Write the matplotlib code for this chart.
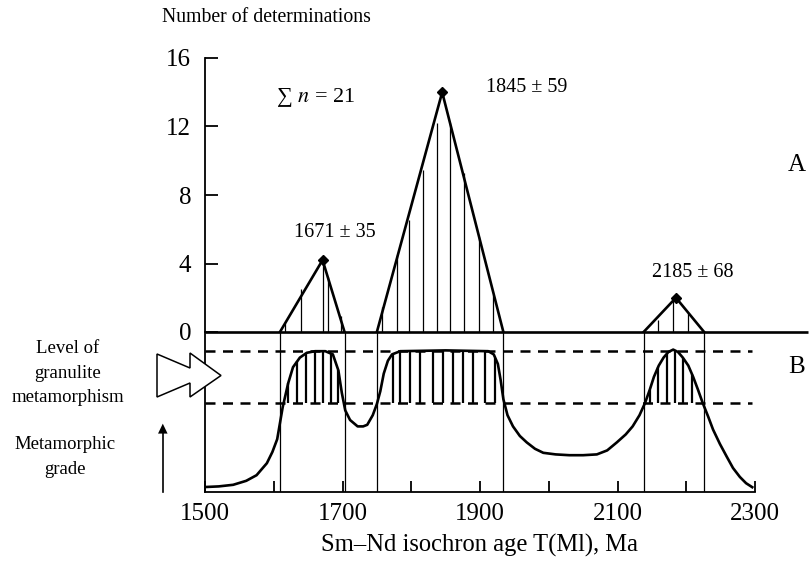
import numpy as np
import matplotlib.pyplot as plt
from matplotlib.patches import Polygon

plt.rcParams['font.family'] = ['Liberation Serif', 'DejaVu Serif']
plt.rcParams['mathtext.fontset'] = 'stix'

# --- upper panel (A): age histograms as triangles ---
peak_age = [1671, 1845, 2185]
peak_n = [4.2, 14.0, 2.0]
base_left = [1609, 1750, 2138]
base_right = [1703, 1934, 2226]
peak_labels = ['1671 ± 35', '1845 ± 59', '2185 ± 68']

hatch_a_age = [1616, 1639, 1671, 1679, 1698,
               1757, 1779, 1797, 1817, 1837, 1856, 1877, 1899, 1919,
               2159, 2180, 2202]
hatch_a_n = [0.53, 2.5, 4.2, 3.2, 0.93,
             1.46, 4.5, 6.54, 9.46, 12.2, 12.2, 9.28, 5.55, 2.16,
             0.7, 1.87, 1.1]

# --- lower panel (B): metamorphic grade curve ---
grade_age = [1500, 1520, 1541, 1560, 1575, 1590, 1598, 1605, 1613, 1621,
             1628, 1638, 1648, 1660, 1675, 1686, 1694, 1699, 1704, 1711,
             1722, 1730, 1736, 1744, 1750, 1755, 1760, 1766, 1772, 1784,
             1850, 1912, 1920, 1926, 1930, 1934, 1940, 1948, 1958, 1968,
             1980, 1992, 2010, 2030, 2050, 2070, 2085, 2099, 2112, 2122,
             2132, 2140, 2147, 2153, 2160, 2167, 2174, 2181, 2188, 2195,
             2203, 2210, 2217, 2224, 2232, 2239, 2249, 2259, 2268, 2278,
             2287, 2296]
grade_lvl = [0.031, 0.035, 0.045, 0.07, 0.105, 0.18, 0.25, 0.33, 0.53, 0.68,
             0.78, 0.84, 0.87, 0.88, 0.88, 0.86, 0.76, 0.62, 0.51, 0.45,
             0.41, 0.41, 0.42, 0.48, 0.55, 0.63, 0.74, 0.82, 0.86, 0.88,
             0.885, 0.88, 0.86, 0.80, 0.70, 0.58, 0.48, 0.41, 0.35, 0.31,
             0.27, 0.245, 0.235, 0.23, 0.23, 0.235, 0.26, 0.31, 0.36, 0.41,
             0.48, 0.556, 0.64, 0.72, 0.79, 0.84, 0.875, 0.89, 0.875, 0.84,
             0.79, 0.72, 0.64, 0.556, 0.47, 0.39, 0.30, 0.22, 0.15, 0.094,
             0.055, 0.03]
granulite_hi = 0.881
granulite_lo = 0.556
hatch_b_age = [1621, 1634, 1647, 1660, 1672, 1683, 1694,
               1773, 1784, 1798, 1813, 1831, 1846, 1861, 1875, 1890, 1907, 1922,
               2147, 2159, 2172, 2184, 2195, 2208]

W, H = 812, 563
fig = plt.figure(figsize=(W / 100, H / 100), dpi=100)
axB = fig.add_axes([205 / W, 1 - 492 / H, 550 / W, 160 / H])
axA = fig.add_axes([205 / W, 1 - 332 / H, 550 / W, 274 / H], sharex=axB)
axA.set_zorder(2)
axA.patch.set_visible(False)
axB.patch.set_visible(False)

lw = 1.9
# panel A
axA.set_xlim(1500, 2300)
axA.set_ylim(0, 16)
for s in ['top', 'right', 'bottom']:
    axA.spines[s].set_visible(False)
axA.spines['left'].set_linewidth(1.3)
axA.set_yticks([0, 4, 8, 12, 16])
axA.tick_params(axis='y', direction='in', length=9, width=1.3, labelsize=18, pad=10)
axA.tick_params(axis='x', bottom=False, labelbottom=False)
axA.plot([1500, 2377], [0, 0], color='black', lw=lw, clip_on=False, solid_capstyle='butt')

for xl, xp, xr, n in zip(base_left, peak_age, base_right, peak_n):
    axA.plot([xl, xp, xr], [0, n, 0], color='black', lw=lw, solid_joinstyle='miter')
    axA.plot(xp, n, marker='D', ms=5, color='black')
axA.vlines(hatch_a_age, 0, hatch_a_n, color='black', lw=0.9)

axA.text(1689, 5.8, peak_labels[0], fontsize=14.5, ha='center', va='center')
axA.text(1968, 14.3, peak_labels[1], fontsize=14.5, ha='center', va='center')
axA.text(2210, 3.45, peak_labels[2], fontsize=14.5, ha='center', va='center')
axA.text(1604, 13.7, '∑ $n$ = 21', fontsize=16, ha='left', va='center')
axA.text(2361, 9.75, 'A', fontsize=18, ha='center', va='center', clip_on=False)

# panel B
axB.set_xlim(1500, 2300)
axB.set_ylim(0, 1)
axB.spines['top'].set_visible(False)
axB.spines['right'].set_visible(False)
axB.spines['left'].set_linewidth(1.3)
axB.spines['bottom'].set_linewidth(1.3)
axB.set_yticks([])
axB.set_xticks(np.arange(1500, 2301, 100))
axB.set_xticklabels(['1500', '', '1700', '', '1900', '', '2100', '', '2300'])
axB.tick_params(axis='x', direction='in', length=8, width=1.3, labelsize=18, pad=8)

axB.plot([1500, 2295], [granulite_hi, granulite_hi], color='black', lw=1.8,
         ls=(0, (4, 3)))
axB.plot([1500, 2295], [granulite_lo, granulite_lo], color='black', lw=1.8,
         ls=(0, (4, 3)))
tops = np.interp(hatch_b_age, grade_age, grade_lvl)
axB.vlines(hatch_b_age, granulite_lo, tops, color='black', lw=1.6)
axB.plot(grade_age, grade_lvl, color='black', lw=lw)
axB.vlines(base_left + base_right, 0, 1, color='black', lw=0.9)
axB.text(2361, 0.78, 'B', fontsize=18, ha='center', va='center', clip_on=False)

axB.set_xlabel('Sm–Nd isochron age T(Ml), Ma', fontsize=17.7, labelpad=6)
fig.text(266 / W, 1 - 18 / H, 'Number of determinations', fontsize=14.2,
         ha='center', va='center')

fig.text(68 / W, 1 - 373 / H, 'Level of\ngranulite\nmetamorphism', fontsize=13.5,
         ha='center', va='center', linespacing=1.57)
fig.text(65 / W, 1 - 457 / H, 'Metamorphic\ngrade', fontsize=13.5,
         ha='center', va='center', linespacing=1.57)

# hollow double arrow pointing at the granulite band
arrow_px = [(157, 354), (190, 368), (190, 353), (221, 375.5),
            (190, 397), (190, 383), (157, 397)]
arrow = Polygon([(x / W, 1 - y / H) for x, y in arrow_px], closed=True,
                facecolor='white', edgecolor='black', lw=1.1,
                transform=fig.transFigure, zorder=5)
fig.patches.append(arrow)
fig.add_artist(plt.Line2D([163 / W, 163 / W], [1 - 492 / H, 1 - 432 / H],
                          color='black', lw=1.2))
fig.text(163 / W, 1 - 428 / H, '▲', fontsize=9, ha='center', va='center',
         family='DejaVu Sans')

fig.savefig('out.png', dpi=100)
